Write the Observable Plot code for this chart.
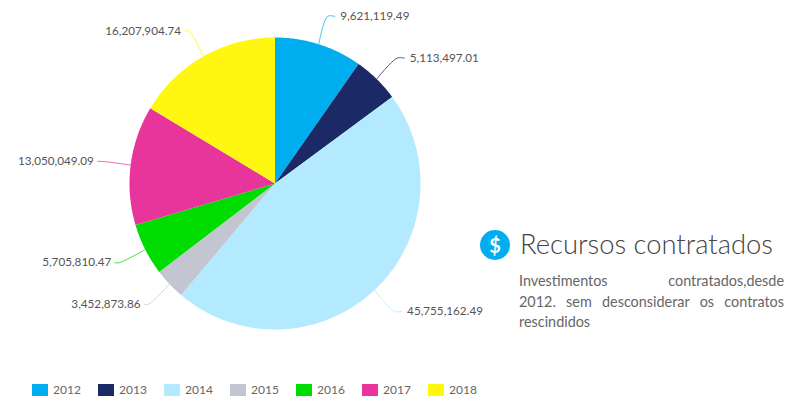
<!DOCTYPE html>
<html><head><meta charset="utf-8">
<script src="https://cdn.jsdelivr.net/npm/d3@7"></script>
<script src="https://cdn.jsdelivr.net/npm/@observablehq/plot@0.6"></script>
<style>
html,body{margin:0;padding:0;background:#fff;overflow:hidden}
body{width:787px;height:396px;position:relative;font-family:Lato,sans-serif}
#chart svg{display:block}
#legend{position:absolute;left:32px;top:383px;height:13px}
#legend>div{font:12px/12px Lato,sans-serif!important;font-feature-settings:"onum";color:#666;margin:0!important;min-height:0!important;display:flex!important;flex-wrap:nowrap!important;align-items:center;height:13px}
#legend>div>*:not(style){width:66px!important;margin:0!important;display:inline-flex!important;align-items:center;flex:none}
#legend svg{margin-right:5px!important;flex:none}
#icon{position:absolute;left:480px;top:230px;width:30px;height:30px;border-radius:50%;background:#00aeef;color:#fff;font:700 20px/30px Lato,sans-serif;text-align:center}
#title{position:absolute;left:520px;top:228px;font:300 27.4px/32px Lato,sans-serif;color:#444;white-space:nowrap}
#desc{position:absolute;left:519px;top:271px;width:265px;font:14.4px/20.5px Lato,sans-serif;color:#666}
#desc span{display:block;text-align:justify;text-align-last:justify}
#desc span:last-child{text-align-last:left}
</style></head>
<body>
<div id="chart"></div>
<div id="legend"></div>
<div id="icon">$</div>
<div id="title">Recursos contratados</div>
<div id="desc"><span>Investimentos contratados,desde</span><span>2012. sem desconsiderar os contratos</span><span>rescindidos</span></div>
<script>
const years = ["2012","2013","2014","2015","2016","2017","2018"];
const values = [9621119.49,5113497.01,45755162.49,3452873.86,5705810.47,13050049.09,16207904.74];
const labels = ["9,621,119.49","5,113,497.01","45,755,162.49","3,452,873.86","5,705,810.47","13,050,049.09","16,207,904.74"];
const colors = ["#00aeef","#1b2a66","#b3eaff","#c3c6d0","#00dc00","#e8359c","#fff70f"];

const arcs = d3.pie().sort(null)(values);
const polar = (a, r) => [r * Math.sin(a), r * Math.cos(a)];
const slices = arcs.flatMap((d, i) => {
  const n = Math.ceil((d.endAngle - d.startAngle) * 120);
  const pts = [{year: years[i], x: 0, y: 0}];
  for (let k = 0; k <= n; ++k) {
    const [x, y] = polar(d.startAngle + (d.endAngle - d.startAngle) * k / n, 1);
    pts.push({year: years[i], x, y});
  }
  return pts;
});
const kneeRadius = 1.2;
const runRight = 0.05, gapRight = 0.088, runLeft = 0.03, gapLeft = 0.055;
const leaders = arcs.flatMap((d, i) => {
  const a = (d.startAngle + d.endAngle) / 2;
  const run = Math.sin(a) >= 0 ? runRight : -runLeft;
  const [x0, y0] = polar(a, 1), [x1, y1] = polar(a, kneeRadius);
  return [{year: years[i], x: x0, y: y0}, {year: years[i], x: x1, y: y1}, {year: years[i], x: x1 + run, y: y1}];
});
const tags = arcs.map((d, i) => {
  const a = (d.startAngle + d.endAngle) / 2;
  const side = Math.sin(a) >= 0 ? 1 : -1;
  const [x, y] = polar(a, kneeRadius);
  return {label: labels[i], x: x + (side > 0 ? gapRight : -gapLeft), y, side};
});

const colorScale = {type: "ordinal", domain: years, range: colors};
const textOpts = {text: "label", x: "x", y: "y", fontFamily: "Lato, sans-serif", fontSize: 11.7, fill: "#555"};
const plot = Plot.plot({
  width: 787, height: 380, margin: 0,
  x: {domain: [-1, 1], range: [129, 420], axis: null},
  y: {domain: [-1, 1], range: [329, 37], axis: null},
  color: colorScale,
  marks: [
    Plot.line(leaders, {x: "x", y: "y", z: "year", stroke: "year", strokeWidth: 1, strokeOpacity: 0.75, curve: "catmull-rom"}),
    Plot.line(slices, {x: "x", y: "y", z: "year", fill: "year", stroke: "none"}),
    Plot.text(tags.filter(d => d.side > 0), {...textOpts, textAnchor: "start"}),
    Plot.text(tags.filter(d => d.side < 0), {...textOpts, textAnchor: "end"})
  ],
  style: {background: "transparent"}
});
document.getElementById("chart").append(plot);
const legend = plot.legend("color", {swatchWidth: 16, swatchHeight: 12, label: null});
document.getElementById("legend").append(legend);
</script>
</body></html>
